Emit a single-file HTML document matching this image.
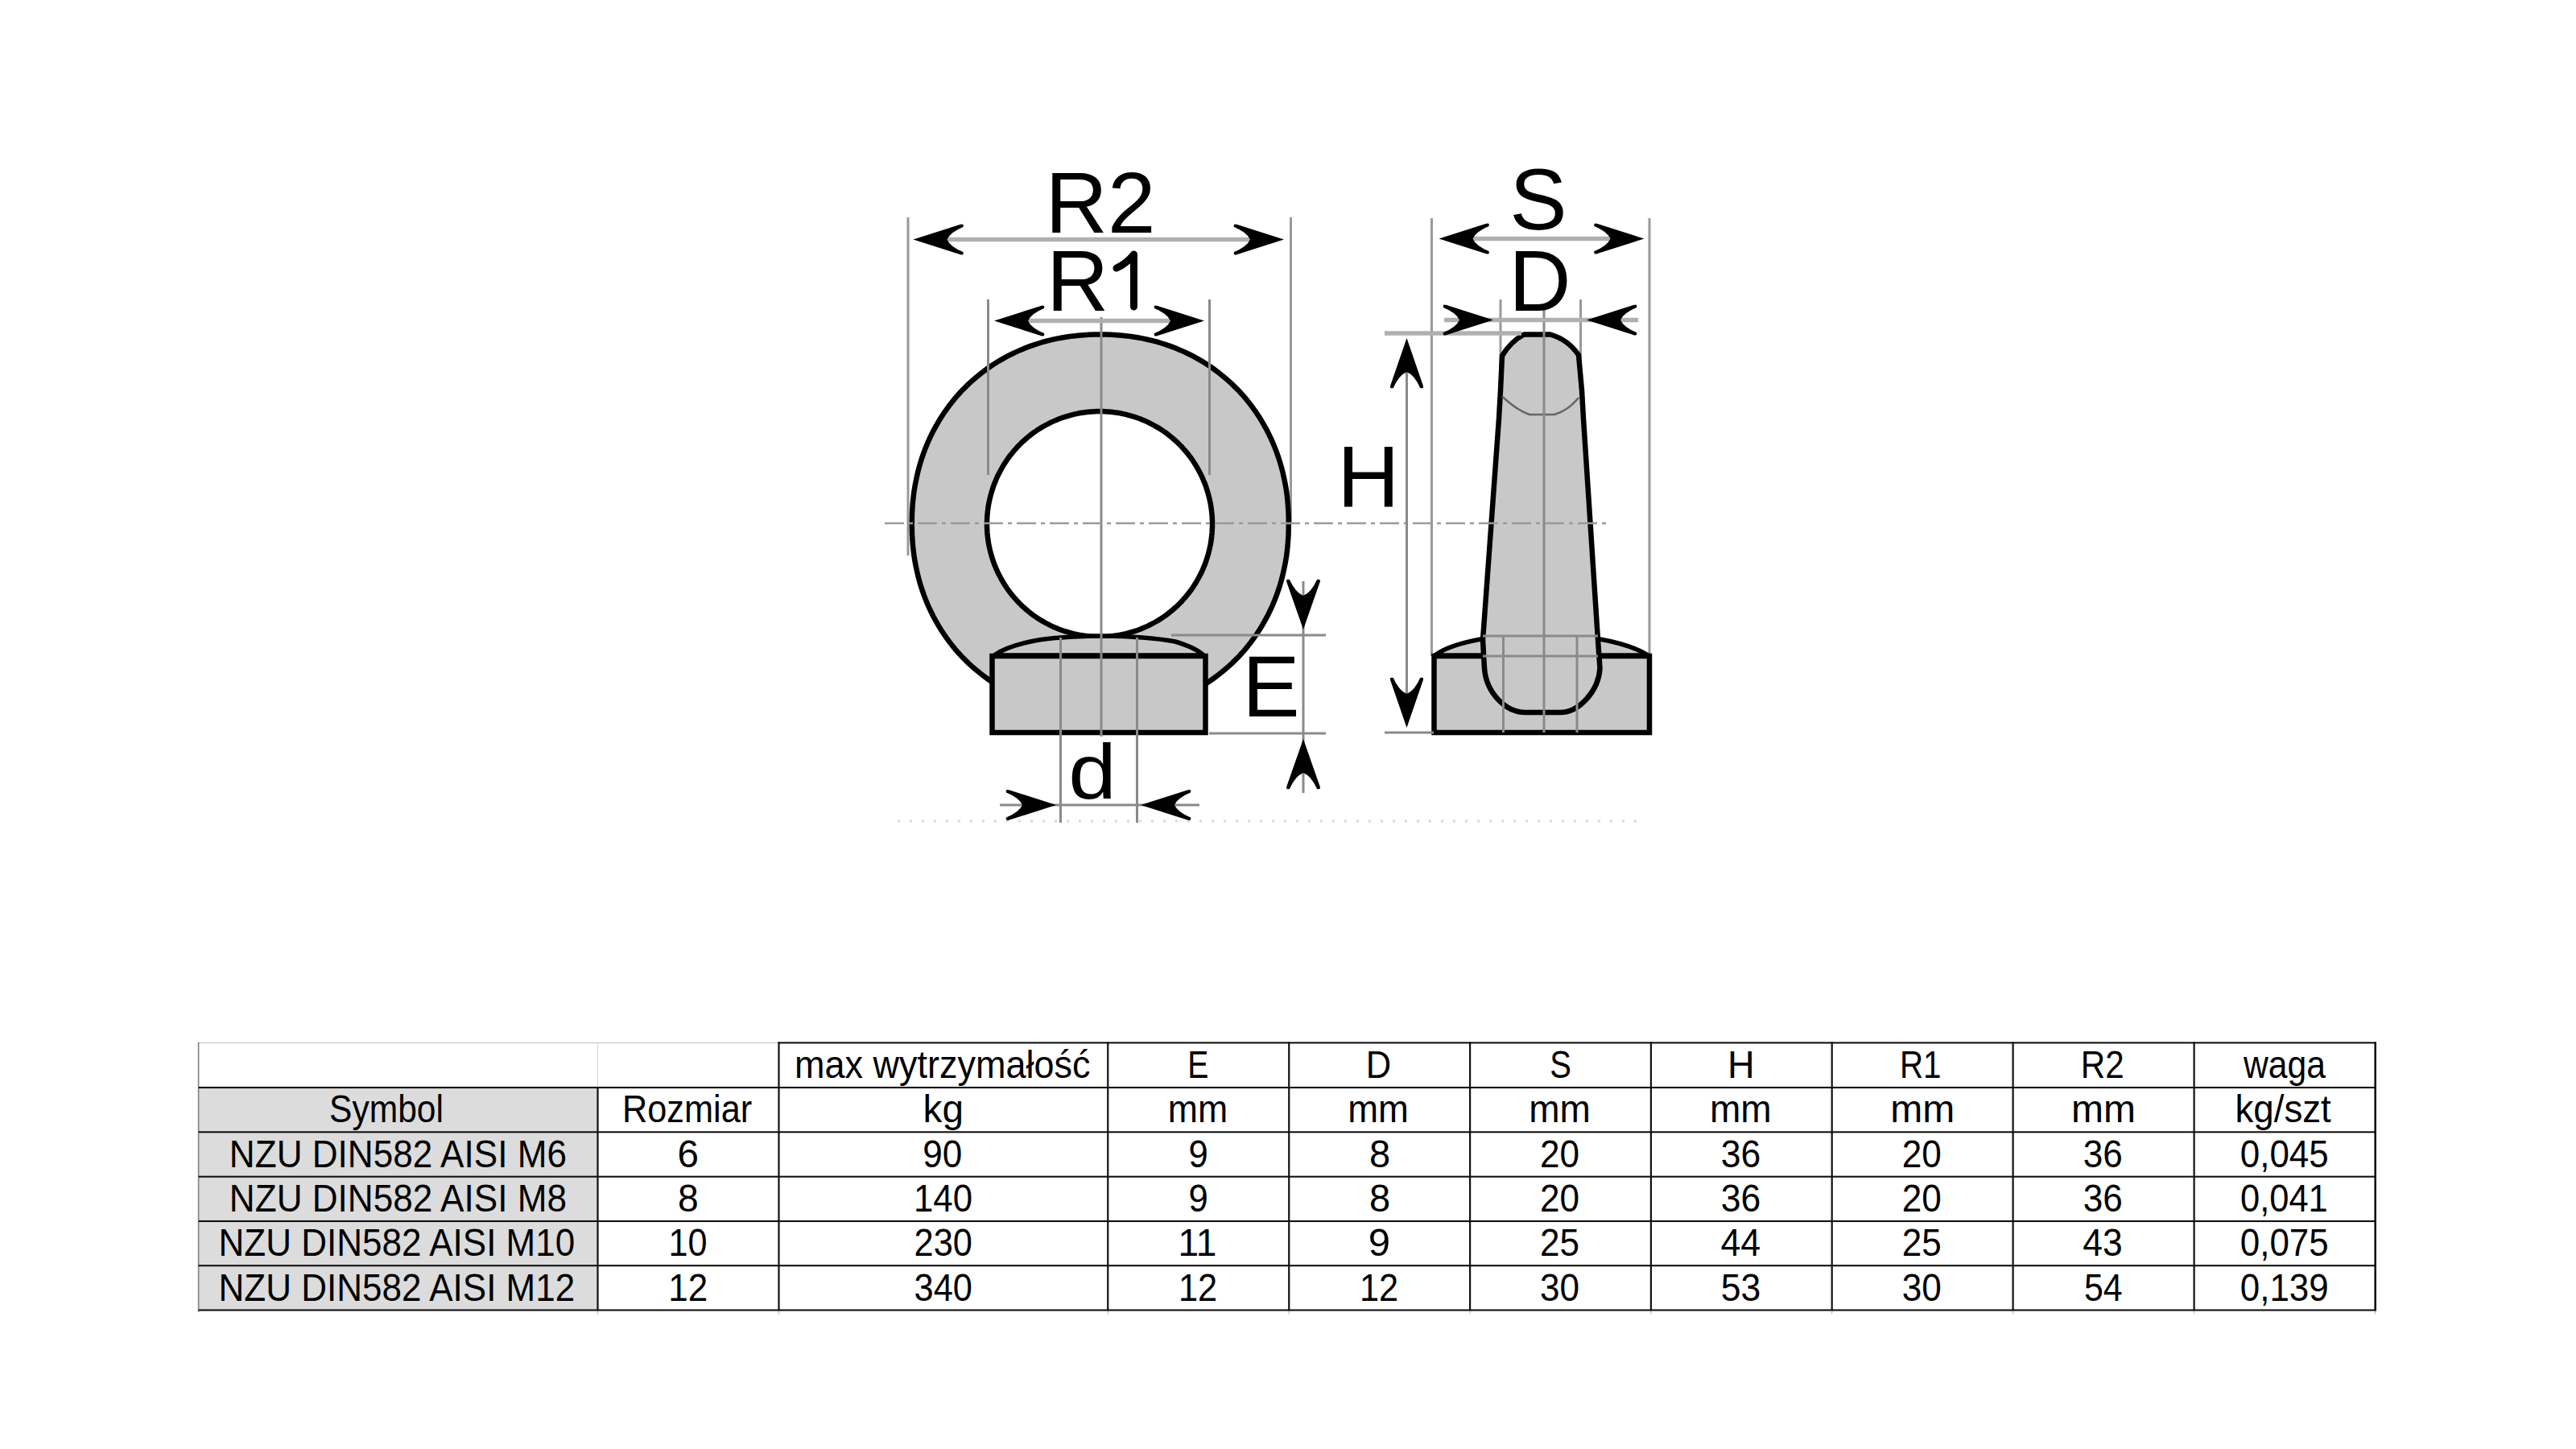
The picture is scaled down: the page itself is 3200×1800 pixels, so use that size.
<!DOCTYPE html>
<html><head><meta charset="utf-8">
<style>
html,body{margin:0;padding:0;background:#fff;width:3200px;height:1800px;overflow:hidden}
svg{position:absolute;left:0;top:0}
text{font-family:"Liberation Sans",sans-serif}
</style></head>
<body>
<svg width="3200" height="1800" viewBox="0 0 3200 1800">
<defs>
<path id="ah" d="M0 0 L58 -18.5 Q63.5 -20.5 62 -15.5 Q46 -9 42 0 Q46 9 62 15.5 Q63.5 20.5 58 18.5 Z"/>
</defs>
<!-- construction / extension lines (behind) -->
<g stroke="#999" stroke-width="3" fill="none">
  <line x1="1128" y1="270" x2="1128" y2="690"/>
  <line x1="1603.5" y1="270" x2="1603.5" y2="650"/>
  <line x1="1778.5" y1="271" x2="1778.5" y2="815"/>
  <line x1="2049" y1="271" x2="2049" y2="815"/>
  <line x1="1864" y1="372" x2="1864" y2="460"/>
  <line x1="1963.5" y1="372" x2="1963.5" y2="460"/>
</g>
<!-- ===== RING VIEW ===== -->
<g id="ring">
  <path d="M1600.8 650.5 L1600.7 657.8 L1600.5 664.7 L1600.1 671.3 L1599.6 677.9 L1598.9 684.3 L1598.1 690.7 L1597.1 696.9 L1595.9 703.2 L1594.6 709.3 L1593.2 715.4 L1591.6 721.4 L1589.9 727.3 L1588.0 733.2 L1586.0 738.9 L1583.8 744.6 L1581.5 750.3 L1579.0 755.8 L1576.4 761.3 L1573.7 766.7 L1570.8 771.9 L1567.8 777.1 L1564.7 782.2 L1561.4 787.3 L1558.0 792.2 L1554.5 797.0 L1550.8 801.7 L1547.1 806.3 L1543.2 810.8 L1539.2 815.2 L1535.0 819.4 L1530.8 823.6 L1526.4 827.6 L1521.9 831.5 L1517.3 835.3 L1512.7 839.0 L1507.9 842.5 L1503.0 846.0 L1498.0 849.2 L1492.9 852.4 L1487.7 855.4 L1482.5 858.3 L1477.1 861.0 L1471.7 863.6 L1466.1 866.1 L1460.5 868.4 L1454.9 870.6 L1449.1 872.6 L1443.3 874.5 L1437.4 876.3 L1431.4 877.9 L1425.3 879.3 L1419.2 880.6 L1413.0 881.8 L1406.8 882.7 L1400.5 883.6 L1394.0 884.3 L1387.5 884.8 L1380.9 885.2 L1374.1 885.4 L1366.8 885.5 L1359.5 885.4 L1352.7 885.2 L1346.1 884.8 L1339.6 884.3 L1333.1 883.6 L1326.8 882.7 L1320.6 881.8 L1314.4 880.6 L1308.3 879.3 L1302.2 877.9 L1296.2 876.3 L1290.3 874.5 L1284.5 872.6 L1278.7 870.6 L1273.1 868.4 L1267.5 866.1 L1261.9 863.6 L1256.5 861.0 L1251.1 858.3 L1245.9 855.4 L1240.7 852.4 L1235.6 849.2 L1230.6 846.0 L1225.7 842.5 L1220.9 839.0 L1216.3 835.3 L1211.7 831.5 L1207.2 827.6 L1202.8 823.6 L1198.6 819.4 L1194.4 815.2 L1190.4 810.8 L1186.5 806.3 L1182.8 801.7 L1179.1 797.0 L1175.6 792.2 L1172.2 787.3 L1168.9 782.2 L1165.8 777.1 L1162.8 771.9 L1159.9 766.7 L1157.2 761.3 L1154.6 755.8 L1152.1 750.3 L1149.8 744.6 L1147.6 738.9 L1145.6 733.2 L1143.7 727.3 L1142.0 721.4 L1140.4 715.4 L1139.0 709.3 L1137.7 703.2 L1136.5 696.9 L1135.5 690.7 L1134.7 684.3 L1134.0 677.9 L1133.5 671.3 L1133.1 664.7 L1132.9 657.8 L1132.8 650.5 L1132.9 643.2 L1133.1 636.3 L1133.5 629.7 L1134.0 623.1 L1134.7 616.7 L1135.5 610.3 L1136.5 604.1 L1137.7 597.8 L1139.0 591.7 L1140.4 585.6 L1142.0 579.6 L1143.7 573.7 L1145.6 567.8 L1147.6 562.1 L1149.8 556.4 L1152.1 550.7 L1154.6 545.2 L1157.2 539.7 L1159.9 534.3 L1162.8 529.1 L1165.8 523.9 L1168.9 518.8 L1172.2 513.7 L1175.6 508.8 L1179.1 504.0 L1182.8 499.3 L1186.5 494.7 L1190.4 490.2 L1194.4 485.8 L1198.6 481.6 L1202.8 477.4 L1207.2 473.4 L1211.7 469.5 L1216.3 465.7 L1220.9 462.0 L1225.7 458.5 L1230.6 455.0 L1235.6 451.8 L1240.7 448.6 L1245.9 445.6 L1251.1 442.7 L1256.5 440.0 L1261.9 437.4 L1267.5 434.9 L1273.1 432.6 L1278.7 430.4 L1284.5 428.4 L1290.3 426.5 L1296.2 424.7 L1302.2 423.1 L1308.3 421.7 L1314.4 420.4 L1320.6 419.2 L1326.8 418.3 L1333.1 417.4 L1339.6 416.7 L1346.1 416.2 L1352.7 415.8 L1359.5 415.6 L1366.8 415.5 L1374.1 415.6 L1380.9 415.8 L1387.5 416.2 L1394.0 416.7 L1400.5 417.4 L1406.8 418.3 L1413.0 419.2 L1419.2 420.4 L1425.3 421.7 L1431.4 423.1 L1437.4 424.7 L1443.3 426.5 L1449.1 428.4 L1454.9 430.4 L1460.5 432.6 L1466.1 434.9 L1471.7 437.4 L1477.1 440.0 L1482.5 442.7 L1487.7 445.6 L1492.9 448.6 L1498.0 451.8 L1503.0 455.0 L1507.9 458.5 L1512.7 462.0 L1517.3 465.7 L1521.9 469.5 L1526.4 473.4 L1530.8 477.4 L1535.0 481.6 L1539.2 485.8 L1543.2 490.2 L1547.1 494.7 L1550.8 499.3 L1554.5 504.0 L1558.0 508.8 L1561.4 513.7 L1564.7 518.8 L1567.8 523.9 L1570.8 529.1 L1573.7 534.3 L1576.4 539.7 L1579.0 545.2 L1581.5 550.7 L1583.8 556.4 L1586.0 562.1 L1588.0 567.8 L1589.9 573.7 L1591.6 579.6 L1593.2 585.6 L1594.6 591.7 L1595.9 597.8 L1597.1 604.1 L1598.1 610.3 L1598.9 616.7 L1599.6 623.1 L1600.1 629.7 L1600.5 636.3 L1600.7 643.2 Z" fill="#c8c8c8" stroke="#000" stroke-width="6.5"/>
  <path d="M1506.0 651.0 L1506.0 654.7 L1505.8 658.3 L1505.6 662.0 L1505.2 665.6 L1504.8 669.3 L1504.3 672.9 L1503.7 676.5 L1502.9 680.1 L1502.1 683.7 L1501.2 687.2 L1500.2 690.8 L1499.1 694.3 L1498.0 697.7 L1496.7 701.2 L1495.3 704.6 L1493.9 707.9 L1492.4 711.3 L1490.7 714.6 L1489.0 717.8 L1487.2 721.0 L1485.4 724.1 L1483.4 727.2 L1481.4 730.3 L1479.3 733.3 L1477.1 736.2 L1474.8 739.1 L1472.5 741.9 L1470.0 744.7 L1467.6 747.4 L1465.0 750.0 L1462.4 752.6 L1459.7 755.0 L1456.9 757.5 L1454.1 759.8 L1451.2 762.1 L1448.3 764.3 L1445.3 766.4 L1442.2 768.4 L1439.1 770.4 L1436.0 772.2 L1432.8 774.0 L1429.6 775.7 L1426.3 777.4 L1422.9 778.9 L1419.6 780.3 L1416.2 781.7 L1412.7 783.0 L1409.3 784.1 L1405.8 785.2 L1402.2 786.2 L1398.7 787.1 L1395.1 787.9 L1391.5 788.7 L1387.9 789.3 L1384.3 789.8 L1380.6 790.2 L1377.0 790.6 L1373.3 790.8 L1369.7 791.0 L1366.0 791.0 L1362.3 791.0 L1358.7 790.8 L1355.0 790.6 L1351.4 790.2 L1347.7 789.8 L1344.1 789.3 L1340.5 788.7 L1336.9 787.9 L1333.3 787.1 L1329.8 786.2 L1326.2 785.2 L1322.7 784.1 L1319.3 783.0 L1315.8 781.7 L1312.4 780.3 L1309.1 778.9 L1305.7 777.4 L1302.4 775.7 L1299.2 774.0 L1296.0 772.2 L1292.9 770.4 L1289.8 768.4 L1286.7 766.4 L1283.7 764.3 L1280.8 762.1 L1277.9 759.8 L1275.1 757.5 L1272.3 755.0 L1269.6 752.6 L1267.0 750.0 L1264.4 747.4 L1262.0 744.7 L1259.5 741.9 L1257.2 739.1 L1254.9 736.2 L1252.7 733.3 L1250.6 730.3 L1248.6 727.2 L1246.6 724.1 L1244.8 721.0 L1243.0 717.8 L1241.3 714.6 L1239.6 711.3 L1238.1 707.9 L1236.7 704.6 L1235.3 701.2 L1234.0 697.7 L1232.9 694.3 L1231.8 690.8 L1230.8 687.2 L1229.9 683.7 L1229.1 680.1 L1228.3 676.5 L1227.7 672.9 L1227.2 669.3 L1226.8 665.6 L1226.4 662.0 L1226.2 658.3 L1226.0 654.7 L1226.0 651.0 L1226.0 647.3 L1226.2 643.7 L1226.4 640.0 L1226.8 636.4 L1227.2 632.7 L1227.7 629.1 L1228.3 625.5 L1229.1 621.9 L1229.9 618.3 L1230.8 614.8 L1231.8 611.2 L1232.9 607.7 L1234.0 604.3 L1235.3 600.8 L1236.7 597.4 L1238.1 594.1 L1239.6 590.7 L1241.3 587.4 L1243.0 584.2 L1244.8 581.0 L1246.6 577.9 L1248.6 574.8 L1250.6 571.7 L1252.7 568.7 L1254.9 565.8 L1257.2 562.9 L1259.5 560.1 L1262.0 557.3 L1264.4 554.6 L1267.0 552.0 L1269.6 549.4 L1272.3 547.0 L1275.1 544.5 L1277.9 542.2 L1280.8 539.9 L1283.7 537.7 L1286.7 535.6 L1289.8 533.6 L1292.9 531.6 L1296.0 529.8 L1299.2 528.0 L1302.4 526.3 L1305.7 524.6 L1309.1 523.1 L1312.4 521.7 L1315.8 520.3 L1319.3 519.0 L1322.7 517.9 L1326.2 516.8 L1329.8 515.8 L1333.3 514.9 L1336.9 514.1 L1340.5 513.3 L1344.1 512.7 L1347.7 512.2 L1351.4 511.8 L1355.0 511.4 L1358.7 511.2 L1362.3 511.0 L1366.0 511.0 L1369.7 511.0 L1373.3 511.2 L1377.0 511.4 L1380.6 511.8 L1384.3 512.2 L1387.9 512.7 L1391.5 513.3 L1395.1 514.1 L1398.7 514.9 L1402.2 515.8 L1405.8 516.8 L1409.3 517.9 L1412.7 519.0 L1416.2 520.3 L1419.6 521.7 L1422.9 523.1 L1426.3 524.6 L1429.6 526.3 L1432.8 528.0 L1436.0 529.8 L1439.1 531.6 L1442.2 533.6 L1445.3 535.6 L1448.3 537.7 L1451.2 539.9 L1454.1 542.2 L1456.9 544.5 L1459.7 547.0 L1462.4 549.4 L1465.0 552.0 L1467.6 554.6 L1470.0 557.3 L1472.5 560.1 L1474.8 562.9 L1477.1 565.8 L1479.3 568.7 L1481.4 571.7 L1483.4 574.8 L1485.4 577.9 L1487.2 581.0 L1489.0 584.2 L1490.7 587.4 L1492.4 590.7 L1493.9 594.1 L1495.3 597.4 L1496.7 600.8 L1498.0 604.3 L1499.1 607.7 L1500.2 611.2 L1501.2 614.8 L1502.1 618.3 L1502.9 621.9 L1503.7 625.5 L1504.3 629.1 L1504.8 632.7 L1505.2 636.4 L1505.6 640.0 L1505.8 643.7 L1506.0 647.3 Z" fill="#fff" stroke="#000" stroke-width="6.5"/>
  <path d="M1235 814 Q1250 803 1285 796 Q1310 791 1367 790 Q1425 790.5 1460 797 Q1486 805 1495 814 Z" fill="#c8c8c8" stroke="#000" stroke-width="5.5" stroke-linejoin="round"/>
  <rect x="1232.5" y="815" width="265" height="95" fill="#c8c8c8" stroke="#000" stroke-width="6.5"/>
</g>
<!-- ===== SIDE VIEW ===== -->
<g id="side">
  <rect x="1781.5" y="815" width="267.5" height="95" fill="#c8c8c8" stroke="#000" stroke-width="6.5"/>
  <path d="M1782.5 814 Q1800 801 1842 793.5 L1985 793.5 Q2027 801 2047.5 814 Z" fill="#c8c8c8" stroke="#000" stroke-width="5.5" stroke-linejoin="round"/>
  <path d="M1893 415.5 L1926 415.5 Q1948 422 1961 441 L1965 485 L1967 520 L1985 795 L1987.5 830 C1986 858 1962 885 1938 885 L1895 885 C1870 885 1846 860 1844 830 L1842 795 L1862 520 L1864 485 L1866 442 Q1877 424 1893 415.5 Z" fill="#c8c8c8" stroke="#000" stroke-width="6.5" stroke-linejoin="round"/>
  <path d="M1866 492.5 Q1885 510 1900 515 L1931 515 Q1948 510 1961 494" fill="none" stroke="#666" stroke-width="2.5"/>
</g>
<!-- center / construction lines (front) -->
<g stroke="#8a8a8a" stroke-width="3" fill="none">
  <line x1="1368" y1="394" x2="1368" y2="915"/>
  <line x1="1227.5" y1="372" x2="1227.5" y2="590"/>
  <line x1="1502.5" y1="372" x2="1502.5" y2="590"/>
  <line x1="1099" y1="650" x2="1997" y2="650" stroke="#9a9a9a" stroke-width="2.6" stroke-dasharray="24 6 5 6"/>
  <line x1="1317.5" y1="792" x2="1317.5" y2="1022"/>
  <line x1="1412.5" y1="792" x2="1412.5" y2="1022"/>
  <line x1="1455" y1="789" x2="1647" y2="789"/>
  <line x1="1502" y1="911" x2="1647" y2="911"/>
  <line x1="1619" y1="722" x2="1619" y2="985"/>
  <line x1="1242" y1="1000" x2="1490" y2="1000"/>
  <line x1="1720" y1="910" x2="1781" y2="910"/>
  <line x1="1747.5" y1="425" x2="1747.5" y2="900"/>
  <line x1="1918" y1="385" x2="1918" y2="910"/>
  <line x1="1842" y1="790" x2="1985" y2="790"/>
  <line x1="1842" y1="815" x2="1985" y2="815"/>
  <line x1="1867.5" y1="790" x2="1867.5" y2="910"/>
  <line x1="1959" y1="790" x2="1959" y2="910"/>
</g>
<g stroke="#b0b0b0" stroke-width="5.5" fill="none">
  <line x1="1176" y1="297.5" x2="1553" y2="297.5"/>
  <line x1="1277" y1="398.5" x2="1454" y2="398.5"/>
  <line x1="1829" y1="296.5" x2="2000" y2="296.5"/>
  <line x1="1794" y1="397.5" x2="2035" y2="397.5"/>
  <line x1="1720" y1="414" x2="1890" y2="414"/>
</g>
<line x1="1115" y1="1020" x2="2045" y2="1020" stroke="#d8d8d8" stroke-width="3" stroke-dasharray="3 12"/>
<!-- arrowheads -->
<g fill="#000">
  <use href="#ah" transform="translate(1134.4 297.5)"/>
  <use href="#ah" transform="translate(1595 297.5) scale(-1 1)"/>
  <use href="#ah" transform="translate(1235 398.5)"/>
  <use href="#ah" transform="translate(1496 398.5) scale(-1 1)"/>
  <use href="#ah" transform="translate(1787.5 296.5)"/>
  <use href="#ah" transform="translate(2042.5 296.5) scale(-1 1)"/>
  <use href="#ah" transform="translate(1855 397.5) scale(-1 1)"/>
  <use href="#ah" transform="translate(1971 397.5)"/>
  <use href="#ah" transform="translate(1312 1000) scale(-1 1)"/>
  <use href="#ah" transform="translate(1417 1000)"/>
  <use href="#ah" transform="translate(1619 782) rotate(-90) scale(1 1.1)"/>
  <use href="#ah" transform="translate(1619 918) rotate(90) scale(1 1.1)"/>
  <use href="#ah" transform="translate(1747.5 420) rotate(90) scale(1 1.08)"/>
  <use href="#ah" transform="translate(1747.5 904) rotate(-90) scale(1 1.08)"/>
</g>
<!-- drawing labels -->
<g font-size="107" fill="#000">
  <text x="1367" y="289" text-anchor="middle">R2</text>
  <text x="1300" y="386">R</text>
  <text x="1911" y="285" text-anchor="middle">S</text>
  <text x="1913" y="386" text-anchor="middle">D</text>
  <text x="1700" y="629" text-anchor="middle">H</text>
  <text x="1579" y="890" text-anchor="middle">E</text>
  <text x="1357" y="992" text-anchor="middle" transform="translate(0 99.2) scale(1 0.9)">d</text>
</g>
<path d="M1408.5 316 L1408.5 381 M1408.5 316 Q1400 327 1387 333" stroke="#000" stroke-width="9" stroke-linecap="round" fill="none"/>
<!-- ===== TABLE ===== -->
<g id="table">
<rect x="246.6" y="1351.0" width="495.9" height="276.5" fill="#dcdcdc"/>
<rect x="246.6" y="1294.8000000000002" width="720.9" height="1.2" fill="#c8c8c8"/>
<rect x="245.79999999999998" y="1294.8000000000002" width="1.6" height="335.0999999999999" fill="#808080"/>
<rect x="966.4" y="1294.3500000000001" width="1985.3" height="2.1" fill="#111"/>
<rect x="246.6" y="1349.95" width="2705.1" height="2.1" fill="#111"/>
<rect x="246.6" y="1405.25" width="2705.1" height="2.1" fill="#111"/>
<rect x="246.6" y="1460.65" width="2705.1" height="2.1" fill="#111"/>
<rect x="246.6" y="1515.95" width="2705.1" height="2.1" fill="#111"/>
<rect x="246.6" y="1571.15" width="2705.1" height="2.1" fill="#111"/>
<rect x="246.6" y="1626.45" width="2705.1" height="2.1" fill="#111"/>
<rect x="742.0" y="1295.4" width="1" height="55.59999999999991" fill="#d4d4d4"/>
<rect x="741.4" y="1350.0" width="2.2" height="278.5" fill="#111"/>
<rect x="966.4" y="1294.4" width="2.2" height="334.0999999999999" fill="#111"/>
<rect x="1375.15" y="1294.4" width="2.2" height="334.0999999999999" fill="#111"/>
<rect x="1600.15" y="1294.4" width="2.2" height="334.0999999999999" fill="#111"/>
<rect x="1825.0" y="1294.4" width="2.2" height="334.0999999999999" fill="#111"/>
<rect x="2049.8" y="1294.4" width="2.2" height="334.0999999999999" fill="#111"/>
<rect x="2274.6" y="1294.4" width="2.2" height="334.0999999999999" fill="#111"/>
<rect x="2499.5" y="1294.4" width="2.2" height="334.0999999999999" fill="#111"/>
<rect x="2724.5" y="1294.4" width="2.2" height="334.0999999999999" fill="#111"/>
<rect x="2949.4" y="1294.4" width="2.6" height="334.0999999999999" fill="#111"/>
<rect x="742.0" y="1628.5" width="1" height="4" fill="#b0b0b0"/>
<rect x="967.0" y="1628.5" width="1" height="4" fill="#b0b0b0"/>
<rect x="1375.75" y="1628.5" width="1" height="4" fill="#b0b0b0"/>
<rect x="1600.75" y="1628.5" width="1" height="4" fill="#b0b0b0"/>
<rect x="1825.6" y="1628.5" width="1" height="4" fill="#b0b0b0"/>
<rect x="2050.4" y="1628.5" width="1" height="4" fill="#b0b0b0"/>
<rect x="2275.2" y="1628.5" width="1" height="4" fill="#b0b0b0"/>
<rect x="2500.1" y="1628.5" width="1" height="4" fill="#b0b0b0"/>
<rect x="2725.1" y="1628.5" width="1" height="4" fill="#b0b0b0"/>
<rect x="2950.0" y="1628.5" width="1" height="4" fill="#b0b0b0"/>
<g font-size="48" text-anchor="middle" fill="#000">
<text x="1171.88" y="1338.90" transform="matrix(0.9375 0 0 1 72.19 0)">max wytrzymałość</text>
<text x="1488.75" y="1338.90" transform="matrix(0.8173 0 0 1 271.59 0)">E</text>
<text x="1713.67" y="1338.90" transform="matrix(0.9052 0 0 1 161.21 0)">D</text>
<text x="1938.50" y="1338.90" transform="matrix(0.8333 0 0 1 323.33 0)">S</text>
<text x="2163.30" y="1338.90" transform="matrix(0.9722 0 0 1 59.72 0)">H</text>
<text x="2388.15" y="1338.90" transform="matrix(0.8409 0 0 1 377.52 0)">R1</text>
<text x="2613.10" y="1338.90" transform="matrix(0.8796 0 0 1 313.15 0)">R2</text>
<text x="2838.05" y="1338.90" transform="matrix(0.8882 0 0 1 317.28 0)">waga</text>
<text x="494.55" y="1394.10" transform="matrix(0.8871 0 0 1 41.33 0)">Symbol</text>
<text x="855.00" y="1394.10" transform="matrix(0.9023 0 0 1 82.12 0)">Rozmiar</text>
<text x="1171.88" y="1394.10" transform="matrix(0.9943 0 0 1 6.53 0)">kg</text>
<text x="1488.75" y="1394.10" transform="matrix(0.9291 0 0 1 104.76 0)">mm</text>
<text x="1713.67" y="1394.10" transform="matrix(0.9459 0 0 1 91.15 0)">mm</text>
<text x="1938.50" y="1394.10" transform="matrix(0.9589 0 0 1 78.66 0)">mm</text>
<text x="2163.30" y="1394.10" transform="matrix(0.9589 0 0 1 87.91 0)">mm</text>
<text x="2388.15" y="1394.10">mm</text>
<text x="2613.10" y="1394.10">mm</text>
<text x="2838.05" y="1394.10" transform="matrix(0.9529 0 0 1 131.73 0)">kg/szt</text>
<text x="494.55" y="1449.60" transform="matrix(0.9191 0 0 1 39.85 0)">NZU DIN582 AISI M6</text>
<text x="855.00" y="1449.60" transform="matrix(0.9932 0 0 1 5.50 0)">6</text>
<text x="1171.88" y="1449.60" transform="matrix(0.9184 0 0 1 94.46 0)">90</text>
<text x="1488.75" y="1449.60" transform="matrix(0.9091 0 0 1 135.11 0)">9</text>
<text x="1713.67" y="1449.60" transform="matrix(0.9783 0 0 1 37.50 0)">8</text>
<text x="1938.50" y="1449.60" transform="matrix(0.9184 0 0 1 157.24 0)">20</text>
<text x="2163.30" y="1449.60" transform="matrix(0.9286 0 0 1 153.79 0)">36</text>
<text x="2388.15" y="1449.60" transform="matrix(0.9184 0 0 1 193.98 0)">20</text>
<text x="2613.10" y="1449.60" transform="matrix(0.9184 0 0 1 212.35 0)">36</text>
<text x="2838.05" y="1449.60" transform="matrix(0.9159 0 0 1 238.41 0)">0,045</text>
<text x="494.55" y="1504.90" transform="matrix(0.9191 0 0 1 39.85 0)">NZU DIN582 AISI M8</text>
<text x="855.00" y="1504.90" transform="matrix(0.9636 0 0 1 31.09 0)">8</text>
<text x="1171.88" y="1504.90" transform="matrix(0.9122 0 0 1 102.53 0)">140</text>
<text x="1488.75" y="1504.90" transform="matrix(0.9091 0 0 1 135.11 0)">9</text>
<text x="1713.67" y="1504.90" transform="matrix(0.9783 0 0 1 37.50 0)">8</text>
<text x="1938.50" y="1504.90" transform="matrix(0.9184 0 0 1 157.24 0)">20</text>
<text x="2163.30" y="1504.90" transform="matrix(0.9286 0 0 1 153.79 0)">36</text>
<text x="2388.15" y="1504.90" transform="matrix(0.9184 0 0 1 193.98 0)">20</text>
<text x="2613.10" y="1504.90" transform="matrix(0.9184 0 0 1 212.35 0)">36</text>
<text x="2838.05" y="1504.90" transform="matrix(0.9052 0 0 1 268.37 0)">0,041</text>
<text x="494.55" y="1560.20" transform="matrix(0.9172 0 0 1 39.28 0)">NZU DIN582 AISI M10</text>
<text x="855.00" y="1560.20" transform="matrix(0.8990 0 0 1 85.82 0)">10</text>
<text x="1171.88" y="1560.20" transform="matrix(0.9046 0 0 1 111.68 0)">230</text>
<text x="1488.75" y="1560.20" transform="matrix(0.9593 0 0 1 59.24 0)">11</text>
<text x="1713.67" y="1560.20" transform="matrix(1.0227 0 0 1 -39.20 0)">9</text>
<text x="1938.50" y="1560.20" transform="matrix(0.9184 0 0 1 157.24 0)">25</text>
<text x="2163.30" y="1560.20" transform="matrix(0.9314 0 0 1 147.48 0)">44</text>
<text x="2388.15" y="1560.20" transform="matrix(0.9184 0 0 1 193.98 0)">25</text>
<text x="2613.10" y="1560.20" transform="matrix(0.9250 0 0 1 194.85 0)">43</text>
<text x="2838.05" y="1560.20" transform="matrix(0.9159 0 0 1 238.41 0)">0,075</text>
<text x="494.55" y="1615.80" transform="matrix(0.9172 0 0 1 39.28 0)">NZU DIN582 AISI M12</text>
<text x="855.00" y="1615.80" transform="matrix(0.9181 0 0 1 69.90 0)">12</text>
<text x="1171.88" y="1615.80" transform="matrix(0.9046 0 0 1 111.68 0)">340</text>
<text x="1488.75" y="1615.80" transform="matrix(0.9043 0 0 1 141.86 0)">12</text>
<text x="1713.67" y="1615.80" transform="matrix(0.9043 0 0 1 163.40 0)">12</text>
<text x="1938.50" y="1615.80" transform="matrix(0.9184 0 0 1 157.24 0)">30</text>
<text x="2163.30" y="1615.80" transform="matrix(0.9286 0 0 1 153.79 0)">53</text>
<text x="2388.15" y="1615.80" transform="matrix(0.9184 0 0 1 193.98 0)">30</text>
<text x="2613.10" y="1615.80" transform="matrix(0.8929 0 0 1 279.64 0)">54</text>
<text x="2838.05" y="1615.80" transform="matrix(0.9159 0 0 1 238.41 0)">0,139</text>
</g>
</g>
</svg>
</body></html>
